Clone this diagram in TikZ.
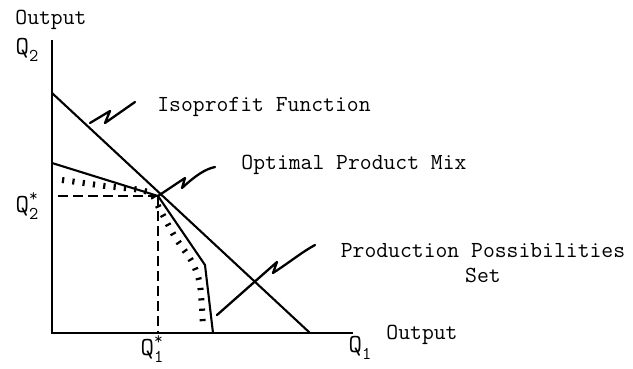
\documentclass[tikz,border=0pt]{standalone}
\usepackage{fontspec}
\usetikzlibrary{positioning}
\newcommand{\qlab}[2]{{\fontsize{26}{26}\selectfont Q}\makebox[0pt][l]{\raisebox{11pt}{\fontsize{17}{17}\selectfont #2}}\raisebox{-7pt}{\fontsize{18}{18}\selectfont #1}}

\begin{document}
\begin{tikzpicture}[
    x=1pt, y=1pt,
    axis/.style={line width=2.2pt},
    curve/.style={line width=2.1pt},
    guide/.style={line width=1.3pt, dash pattern=on 10pt off 5pt},
    hatch/.style={line width=6pt, dash pattern=on 2.2pt off 8.2pt},
    pointer/.style={line width=2.3pt, line join=round, line cap=round},
    lbl/.style={font=\ttfamily\fontsize{23}{25}\selectfont, inner sep=0pt, align=center}
]
    \useasboundingbox (0,0) rectangle (633,368);

    % axes and corner points
    \coordinate (O) at (52,35);
    \coordinate (ytop) at (52,328);
    \coordinate (xend) at (353,35);
    \coordinate (isoA) at (52,275);
    \coordinate (isoB) at (310,35);
    \coordinate (ppA) at (52,205);
    \coordinate (opt) at (158,172);
    \coordinate (ppC) at (205,103);
    \coordinate (ppD) at (213,35);
    \coordinate (q2guide) at (58,172);

    % labels
    \node[lbl] (youtlab) at (51,348) {Output};
    \node[lbl] (q2) at (27,318) {\qlab{2}{}};
    \node[lbl] (q2s) at (27,162) {\qlab{2}{*}};
    \node[lbl] (q1s) at (152,19) {\qlab{1}{*}};
    \node[lbl] (q1) at (360,20) {\qlab{1}{}};
    \node[lbl] (xoutlab) at (422,33) {Output};
    \node[lbl] (isolab) at (264,261) {Isoprofit Function};
    \node[lbl] (optlab) at (354,203) {Optimal Product Mix};
    \node[lbl] (pplab) at (483,105) {Production Possibilities\\Set};

    \draw[axis] (ytop) -- (O) -- (xend);
    \draw[curve] (isoA) -- (isoB);
    \draw[curve] (ppA) -- (opt) -- (ppC) -- (ppD);
    \draw[guide] (q2guide) -- (opt);
    \draw[guide] (opt) -- (opt |- O);
    \draw[hatch] plot[smooth] coordinates {(62,188) (105,182) (148,176) (160,158) (175,131) (192,106) (200,83) (203,40)};

    % pointers
    \draw[pointer] (90,245) -- (110,257) -- (105,245) -- (135,266);
    \draw[pointer] (opt) -- (185,190) -- (182,180) .. controls (195,192) and (205,199) .. (215,201);
    \draw[pointer] (217,53) -- (277,106) -- (273,95) .. controls (290,106) and (302,116) .. (315,123);
\end{tikzpicture}
\end{document}
